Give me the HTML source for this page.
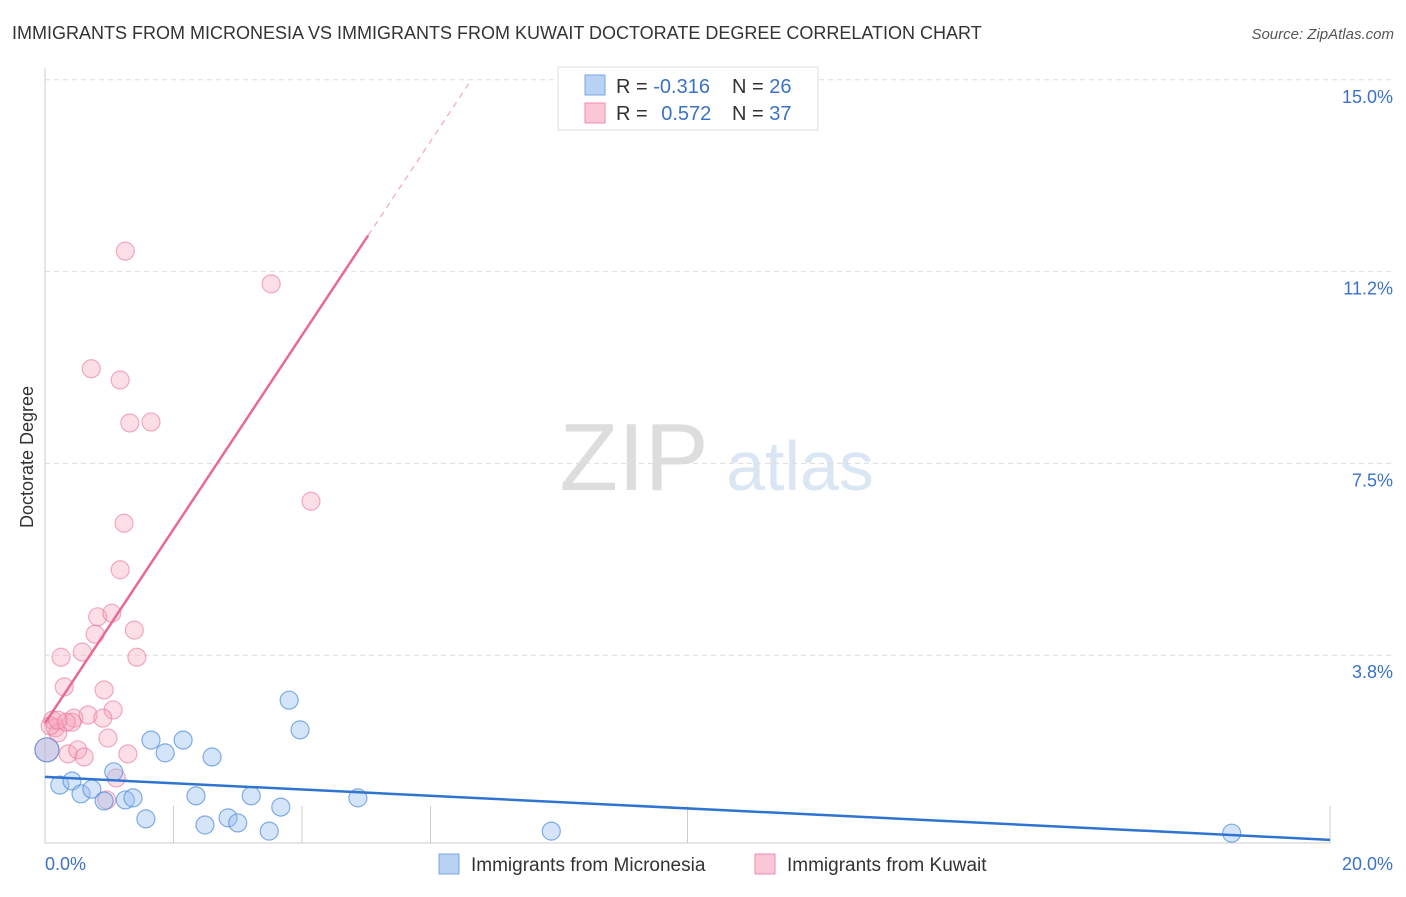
<!DOCTYPE html>
<html><head><meta charset="utf-8"><style>
body{margin:0;background:#fff;font-family:"Liberation Sans",sans-serif;}
svg text{font-family:"Liberation Sans",sans-serif;}
</style></head><body>
<svg id="chart" width="1406" height="892" viewBox="0 0 1406 892" xmlns="http://www.w3.org/2000/svg">
<text x="12" y="39" font-size="18" fill="#333">IMMIGRANTS FROM MICRONESIA VS IMMIGRANTS FROM KUWAIT DOCTORATE DEGREE CORRELATION CHART</text>
<text x="1394" y="39" font-size="15" fill="#555" text-anchor="end" font-style="italic">Source: ZipAtlas.com</text>
<g>
<text x="634" y="490" font-size="96" fill="#ddd" text-anchor="middle" font-family="Liberation Serif,serif">ZIP</text>
<text x="800" y="490" font-size="70" fill="#dbe6f4" text-anchor="middle">atlas</text>
</g>
<g id="grid"></g>
<g id="axes"></g>
<g id="marks"></g>
<text transform="translate(33,457) rotate(-90)" font-size="18" fill="#333" text-anchor="middle">Doctorate Degree</text>
<g>
<rect x="558" y="67" width="260" height="63" fill="#fff" stroke="#ddd"/>
<rect x="585" y="75" width="20" height="20" fill="#b8d2f4" stroke="#7aa6e0"/>
<rect x="585" y="103" width="20" height="20" fill="#fbc6d5" stroke="#f08ca8"/>
<text x="616" y="93" font-size="20" fill="#333">R = <tspan fill="#3a72c8">-0.316</tspan></text>
<text x="732" y="93" font-size="20" fill="#333">N = <tspan fill="#3a72c8">26</tspan></text>
<text x="616" y="120" font-size="20" fill="#333">R = <tspan fill="#3a72c8" dx="8">0.572</tspan></text>
<text x="732" y="120" font-size="20" fill="#333">N = <tspan fill="#3a72c8">37</tspan></text>
</g>
<g>
<rect x="439" y="854" width="20" height="20" fill="#b8d2f4" stroke="#7aa6e0"/>
<text x="471" y="871" font-size="19" fill="#333">Immigrants from Micronesia</text>
<rect x="755" y="854" width="20" height="20" fill="#fbc6d5" stroke="#f08ca8"/>
<text x="787" y="871" font-size="19" fill="#333">Immigrants from Kuwait</text>
</g>
</svg>
<script>
const yTicks=[15,11.25,7.5,3.75];
const yTickLabels=["15.0%","11.2%","7.5%","3.8%"];
const xTickLabels=["0.0%","20.0%"];
const blueX=[0.03,0.23,0.42,0.56,0.73,0.92,1.07,1.25,1.37,1.57,1.65,1.87,2.15,2.35,2.49,2.60,2.85,3.00,3.21,3.49,3.67,3.80,3.97,4.87,7.88,18.47];
const blueY=[1.90,1.21,1.29,1.04,1.13,0.90,1.47,0.92,0.96,0.55,2.09,1.84,2.09,1.00,0.43,1.76,0.57,0.47,1.00,0.31,0.78,2.87,2.29,0.96,0.31,0.27];
const pinkX=[0.03,0.12,0.16,0.20,0.25,0.30,0.36,0.45,0.51,0.58,0.61,0.67,0.72,0.78,0.82,0.92,0.96,0.98,1.04,1.06,1.11,1.17,1.17,1.23,1.25,1.29,1.32,1.39,1.43,1.65,3.52,4.14,0.42,0.08,0.33,0.90,0.20];
const pinkY=[1.90,2.48,2.33,2.23,3.71,3.13,1.82,2.52,1.90,3.81,1.76,2.58,9.35,4.16,4.50,3.07,0.92,2.13,4.57,2.68,1.35,5.42,9.13,6.33,11.65,1.82,8.29,4.24,3.71,8.31,11.01,6.76,2.44,2.37,2.44,2.52,2.48];
const blueTrend=[1.37,0.14];
const pinkTrend=[2.42,1.896];
const NS="http://www.w3.org/2000/svg";
const X=v=>45+v*64.25, Y=v=>847-v*51.15;
function mk(p,t,a){const e=document.createElementNS(NS,t);for(const k in a)e.setAttribute(k,a[k]);p.appendChild(e);return e;}
const grid=document.getElementById('grid'),axes=document.getElementById('axes'),marks=document.getElementById('marks');
yTicks.forEach((t,i)=>{
 const l=mk(grid,'line',{x1:45,x2:1392,y1:Y(t),y2:Y(t),stroke:'#ddd','stroke-dasharray':'5,4'});
 
 
 const tx=mk(axes,'text',{x:1393,y:Y(t)+23,'font-size':18,fill:'#3a72c8','text-anchor':'end'});
 tx.textContent=yTickLabels[i];
 
 
});
mk(axes,'line',{x1:45,x2:45,y1:68,y2:843,stroke:'#ccc'});
mk(axes,'line',{x1:45,x2:1330,y1:843,y2:843,stroke:'#ccc'});
[2,4,6,10,20].forEach(v=>{const t=mk(axes,'line',{x1:X(v),x2:X(v),y1:806,y2:843,stroke:'#ccc'});
 
 });
const xl0=mk(axes,'text',{x:45,y:870,'font-size':18,fill:'#3a72c8'});xl0.textContent=xTickLabels[0];


const xl1=mk(axes,'text',{x:1393,y:870,'font-size':18,fill:'#3a72c8','text-anchor':'end'});xl1.textContent=xTickLabels[1];


pinkX.forEach((x,i)=>{const c=mk(marks,'circle',{cx:X(x),cy:Y(pinkY[i]),r:i==0?12:9,fill:'rgba(247,160,186,0.35)',stroke:'rgba(232,120,155,0.6)','stroke-width':1.2});
 
 });
blueX.forEach((x,i)=>{const c=mk(marks,'circle',{cx:X(x),cy:Y(blueY[i]),r:i==0?12:9,fill:'rgba(150,190,240,0.4)',stroke:'rgba(80,140,220,0.7)','stroke-width':1.2});
 
 });
const bl=mk(marks,'line',{x1:X(0),y1:Y(blueTrend[0]),x2:X(20),y2:Y(blueTrend[0]+blueTrend[1]-blueTrend[0]),stroke:'#2f74d0','stroke-width':2.5});
bl.setAttribute('y2',Y(blueTrend[1]));


const pe=5.03, pd=(15-pinkTrend[0])/pinkTrend[1];
const pl=mk(marks,'line',{x1:X(0),y1:Y(pinkTrend[0]),x2:X(pe),y2:Y(pinkTrend[0]+pinkTrend[1]*pe),stroke:'#e86a92','stroke-width':2.5});


const pdl=mk(marks,'line',{x1:X(pe),y1:Y(pinkTrend[0]+pinkTrend[1]*pe),x2:X(pd),y2:Y(15),stroke:'#f0a8bd','stroke-width':1.2,'stroke-dasharray':'6,5'});


</script>
</body></html>
